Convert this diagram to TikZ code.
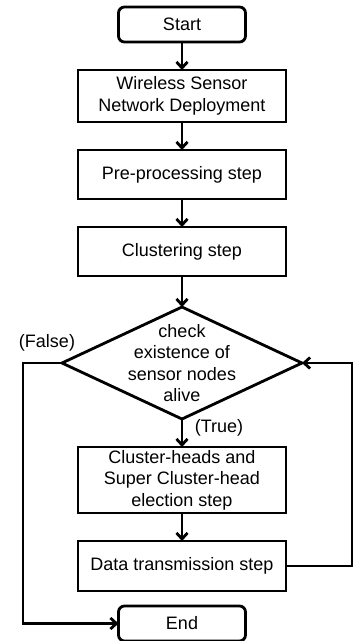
\documentclass[tikz,border=0pt]{standalone}
\usepackage{fontspec}
\setmainfont{Liberation Sans}
\usetikzlibrary{positioning,shapes,arrows.meta}
\tikzset{
    % process box
    procbox/.style = {draw=black, line width=2.8pt, align=center, minimum width=208pt, minimum height=50pt, inner sep=2pt, outer sep=0pt},
    % start and end
    termbox/.style = {draw=black, line width=2.8pt, rounded corners=6pt, minimum width=127pt, minimum height=35pt, inner sep=0pt, outer sep=0pt},
    % decision
    decision/.style = {draw=black, line width=2.8pt, diamond, minimum width=240pt, minimum height=112pt, inner sep=0pt, outer sep=0pt},
    arr/.style = {line width=2.8pt, -{Straight Barb[length=6pt,width=11pt]}},
    flowline/.style = {line width=2.8pt}
}

\begin{document}
\begin{tikzpicture}[x=1pt, y=1pt, node distance=28pt, font=\fontsize{18}{21.5}\selectfont]

    \useasboundingbox (0,0) rectangle (354,-641);

    \node[termbox] (start) at (182,-24.5) {Start};
    \node[procbox, minimum height=52pt, below=of start] (wsn) {Wireless Sensor\\Network Deployment};
    \node[procbox, minimum height=49pt, below=of wsn] (prep) {Pre-processing step};
    \node[procbox, minimum height=49pt, below=of prep] (clus) {Clustering step};
    \node[decision, below=31pt of clus] (chk) {};
    \node[align=center, inner sep=0pt] (chktxt) at (chk.center) {check\\existence of\\sensor nodes\\alive};
    \node[procbox, minimum height=66pt, below=of chk] (elect) {Cluster-heads and\\Super Cluster-head\\election step};
    \node[procbox, below=of elect] (data) {Data transmission step};
    \node[termbox, below=15pt of data] (end) {End};

    \node (lblfalse) at (47,-343) {(False)};
    \node (lbltrue) at (219,-428) {(True)};

    \coordinate (lft) at (23,-364);
    \coordinate (rgt) at (352,-364);

    \draw[arr] (start) -- (wsn);
    \draw[arr] (wsn) -- (prep);
    \draw[arr] (prep) -- (clus);
    \draw[arr] (clus) -- (chk);
    \draw[arr] (chk) -- (elect);
    \draw[arr] (elect) -- (data);
    \draw[arr] (chk.west) -- (chk.west -| lft) |- (end.west);
    \draw[arr] (data.east) -- (data.east -| rgt) |- (chk.east);

\end{tikzpicture}
\end{document}
